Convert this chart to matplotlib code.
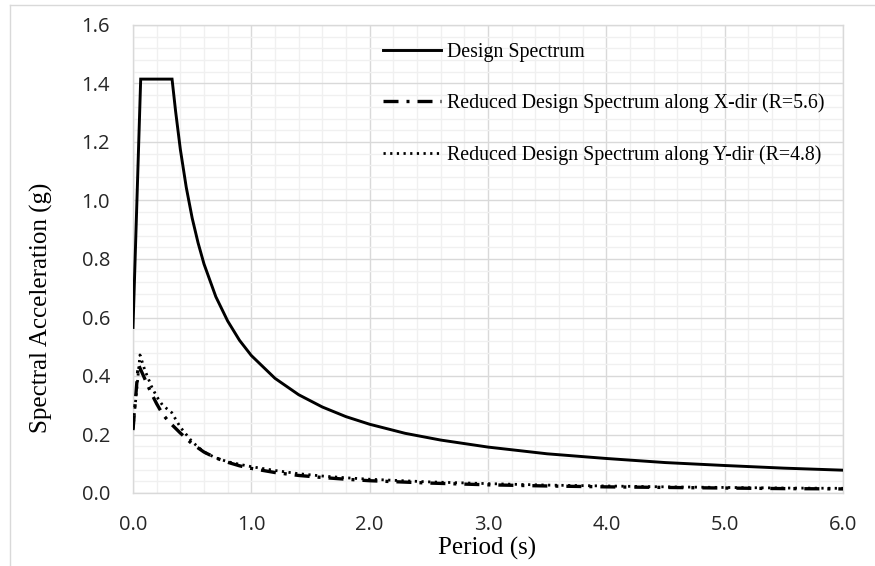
import matplotlib
matplotlib.use("Agg")
import matplotlib.pyplot as plt
from matplotlib.lines import Line2D
from matplotlib.ticker import MultipleLocator, FormatStrFormatter

# ---- data ----
design_T = [0, 0.065, 0.33, 0.36, 0.4, 0.45, 0.5, 0.55, 0.6, 0.7, 0.8, 0.9, 1.0,
            1.2, 1.4, 1.6, 1.8, 2.0, 2.3, 2.6, 3.0, 3.5, 4.0, 4.5, 5.0, 5.5, 6.0]
design_Sa = [0.566, 1.415, 1.415, 1.305, 1.175, 1.045, 0.94, 0.855, 0.783, 0.671, 0.588,
             0.522, 0.47, 0.392, 0.336, 0.294, 0.261, 0.235, 0.204, 0.181, 0.157, 0.134,
             0.118, 0.104, 0.094, 0.085, 0.078]

x_T = [0, 0.045, 0.1, 0.15, 0.2, 0.25, 0.3, 0.35, 0.4, 0.5, 0.6, 0.7, 0.8, 0.9, 1.0,
       1.2, 1.4, 1.6, 1.8, 2.0, 2.5, 3.0, 3.5, 4.0, 4.5, 5.0, 5.5, 6.0]
x_Sa = [0.215, 0.44, 0.39, 0.345, 0.305, 0.27, 0.245, 0.225, 0.205, 0.168, 0.14, 0.12,
        0.105, 0.093, 0.084, 0.07, 0.06, 0.053, 0.047, 0.042, 0.034, 0.028, 0.024, 0.021,
        0.019, 0.017, 0.015, 0.014]

y_T = [0, 0.059, 0.1, 0.158, 0.2, 0.25, 0.327, 0.4, 0.5, 0.6, 0.7, 0.8, 0.9, 1.0,
       1.2, 1.4, 1.6, 1.8, 2.0, 2.5, 3.0, 3.5, 4.0, 4.5, 5.0, 5.5, 6.0]
y_Sa = [0.22, 0.472, 0.42, 0.363, 0.33, 0.30, 0.275, 0.225, 0.175, 0.14, 0.12, 0.107,
        0.098, 0.09, 0.077, 0.066, 0.058, 0.052, 0.047, 0.038, 0.032, 0.027, 0.024,
        0.021, 0.019, 0.017, 0.016]

labels = ["Design Spectrum",
          "Reduced Design Spectrum along X-dir (R=5.6)",
          "Reduced Design Spectrum along Y-dir (R=4.8)"]
x_label = "Period (s)"
y_label = "Spectral Acceleration (g)"

# ---- figure ----
W, H = 875, 566
fig = plt.figure(figsize=(W / 100, H / 100), dpi=100)
ax = fig.add_axes([133 / W, 1 - 493 / H, (843 - 133) / W, (493 - 25) / H])

serif = "Liberation Serif"
tickfont = "Open Sans"

style_design = dict(color="black", lw=2.1)
style_x = dict(color="black", lw=2.4, dashes=(4.5, 2.4, 0.9, 2.4))
style_y = dict(color="black", lw=2.0, dashes=(0.8, 1.6))

ax.plot(design_T, design_Sa, solid_joinstyle="miter", zorder=3, **style_design)
ax.plot(x_T, x_Sa, zorder=3, **style_x)
ax.plot(y_T, y_Sa, zorder=3, **style_y)

ax.set_xlim(0, 6.0)
ax.set_ylim(0, 1.6)
ax.xaxis.set_major_locator(MultipleLocator(1.0))
ax.xaxis.set_minor_locator(MultipleLocator(0.2))
ax.yaxis.set_major_locator(MultipleLocator(0.2))
ax.yaxis.set_minor_locator(MultipleLocator(0.04))
ax.xaxis.set_major_formatter(FormatStrFormatter("%.1f"))
ax.yaxis.set_major_formatter(FormatStrFormatter("%.1f"))

ax.grid(which="major", color="#d9d9d9", lw=1.0, zorder=0)
ax.grid(which="minor", color="#f0f0f0", lw=1.0, zorder=0)
ax.set_axisbelow(True)
ax.tick_params(which="both", length=0)
ax.tick_params(axis="x", pad=16, labelsize=14.5, labelcolor="#262626")
ax.tick_params(axis="y", pad=16.5, labelsize=14.5, labelcolor="#262626")
for lab in ax.get_xticklabels() + ax.get_yticklabels():
    lab.set_fontfamily(tickfont)
for s in ax.spines.values():
    s.set_color("#d9d9d9")
    s.set_linewidth(1.0)

fig.text(487 / W, 1 - 548 / H, x_label, fontfamily=serif, fontsize=18,
         ha="center", va="center")
fig.text(41 / W, 1 - 308 / H, y_label, fontfamily=serif, fontsize=18,
         ha="center", va="center", rotation=90)

handles = [Line2D([], [], **style_design),
           Line2D([], [], **style_x),
           Line2D([], [], **style_y)]
leg = ax.legend(handles, labels, loc="upper left",
                bbox_to_anchor=((373 - 133) / (843 - 133), 1 - (33 - 25) / (493 - 25)),
                frameon=False, prop={"family": serif, "size": 14.3},
                handlelength=2.9, handletextpad=0.35, labelspacing=1.6, borderpad=0)

# chart border (Excel chart area)
fig.add_artist(Line2D([10 / W, 10 / W], [0, 1 - 5 / H], color="#d9d9d9", lw=1.0,
                      transform=fig.transFigure))
fig.add_artist(Line2D([10 / W, 1], [1 - 5 / H, 1 - 5 / H], color="#d9d9d9", lw=1.0,
                      transform=fig.transFigure))

fig.savefig("out.png", dpi=100)
